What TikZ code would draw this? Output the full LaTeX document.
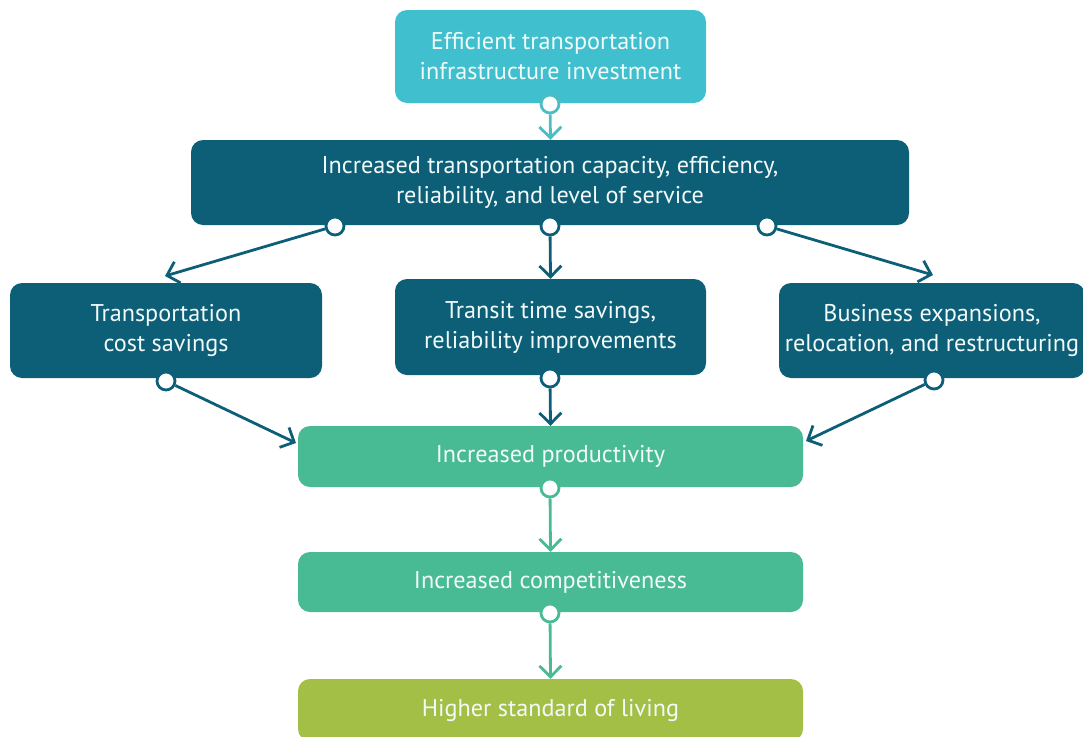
\documentclass[tikz,border=0pt]{standalone}
\usepackage{fontspec}
\setmainfont{PT Sans}
\usetikzlibrary{arrows.meta}
\definecolor{cyanbox}{HTML}{40C0CE}
\definecolor{tealbox}{HTML}{0D5F78}
\definecolor{greenbox}{HTML}{48BB94}
\definecolor{olivebox}{HTML}{A4BF45}
\definecolor{cyanline}{HTML}{4DBDC4}
\definecolor{txt}{HTML}{F2FAFA}
\tikzset{
  box/.style={rounded corners=12pt, inner sep=0pt, align=center, text=txt,
    font=\fontsize{24.2}{30}\selectfont},
  dot/.style={circle, draw, fill=white, line width=2.8pt, minimum size=18pt, inner sep=0pt},
  conn/.style={line width=2.8pt, -{Straight Barb[length=11pt,width=22pt,line width=2.8pt]}},
}
\begin{document}
\begin{tikzpicture}[x=1pt,y=-1pt]
\useasboundingbox (0,0) rectangle (1083,736);
% boxes
\node[box, fill=cyanbox, minimum width=311pt, minimum height=93pt] (inv) at (550.5,56.5)
  {Efficient transportation\\infrastructure investment};
\node[box, fill=tealbox, minimum width=718pt, minimum height=85pt] (cap) at (550,182.5)
  {Increased transportation capacity, efficiency,\\reliability, and level of service};
\node[box, fill=tealbox, minimum width=312pt, minimum height=95pt] (cost) at (166,330.5)
  {Transportation\\cost savings};
\node[box, fill=tealbox, minimum width=311pt, minimum height=96pt] (time) at (550.5,327)
  {Transit time savings,\\reliability improvements};
\node[box, fill=tealbox, minimum width=306pt, minimum height=95pt] (bus) at (932,330.5)
  {Business expansions,\\relocation, and restructuring};
\node[box, fill=greenbox, minimum width=505pt, minimum height=61pt] (prod) at (550.5,456.5)
  {Increased productivity};
\node[box, fill=greenbox, minimum width=505pt, minimum height=60pt] (comp) at (550.5,582)
  {Increased competitiveness};
\node[box, fill=olivebox, minimum width=505pt, minimum height=62pt] (live) at (550.5,710)
  {Higher standard of living};
% dots
\node[dot, draw=cyanline] (d0) at (550,104) {};
\node[dot, draw=tealbox] (d1) at (335,226) {};
\node[dot, draw=tealbox] (d2) at (550,226) {};
\node[dot, draw=tealbox] (d3) at (767,226) {};
\node[dot, draw=tealbox] (d4) at (166,381) {};
\node[dot, draw=tealbox] (d5) at (550,378) {};
\node[dot, draw=tealbox] (d6) at (934,380) {};
\node[dot, draw=greenbox] (d7) at (550,488) {};
\node[dot, draw=greenbox] (d8) at (550,613) {};
% connectors
\coordinate (t1) at (165,276);
\coordinate (t3) at (933,275);
\coordinate (t4) at (296,443);
\coordinate (t6) at (806,441);
\draw[conn, draw=cyanline] (d0) -- (inv.south |- cap.north);
\draw[conn, draw=tealbox] (d1) -- (t1);
\draw[conn, draw=tealbox] (d2) -- (time.north);
\draw[conn, draw=tealbox] (d3) -- (t3);
\draw[conn, draw=tealbox] (d4) -- (t4);
\draw[conn, draw=tealbox] (d5) -- (prod.north);
\draw[conn, draw=tealbox] (d6) -- (t6);
\draw[conn, draw=greenbox] (d7) -- (comp.north);
\draw[conn, draw=greenbox] (d8) -- (live.north);
\end{tikzpicture}
\end{document}
